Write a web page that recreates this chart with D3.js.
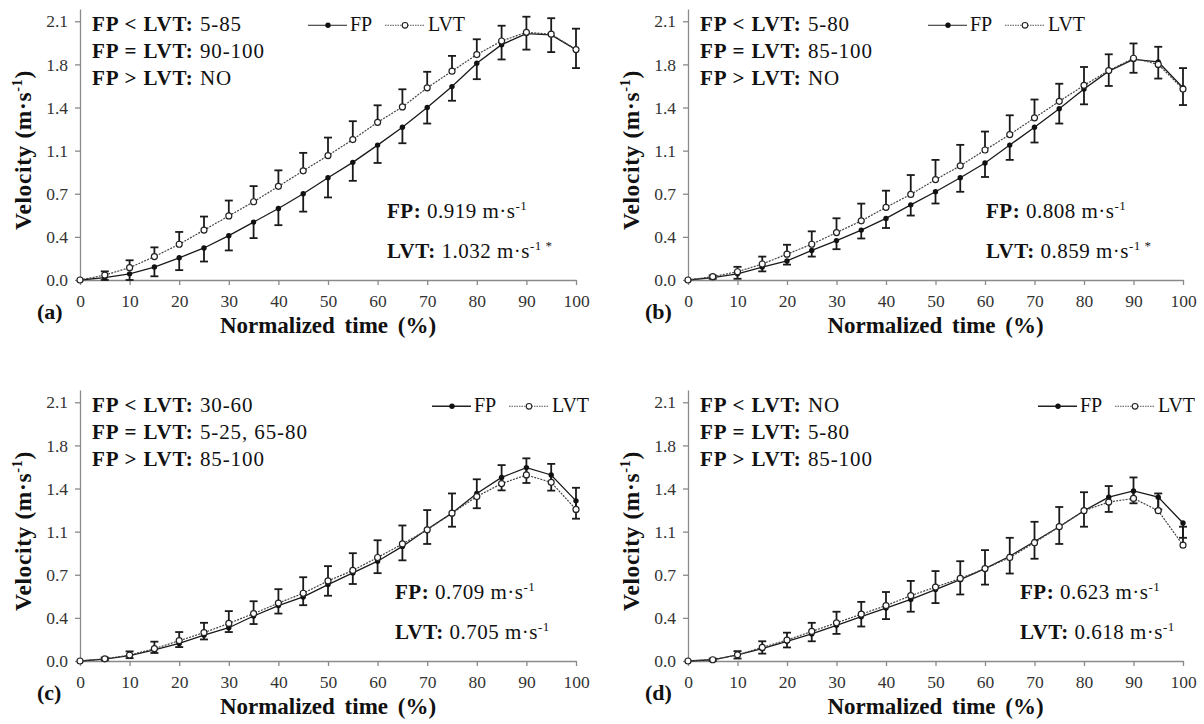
<!DOCTYPE html>
<html>
<head>
<meta charset="utf-8">
<script src="https://cdn.jsdelivr.net/npm/d3@7"></script>
<style>
body { margin: 0; background: #fff; }
</style>
</head>
<body>
<svg id="chart" width="1204" height="724" font-family="Liberation Serif"></svg>
<script>
// normalized time (%)
var times = [0, 5, 10, 15, 20, 25, 30, 35, 40, 45, 50, 55, 60, 65, 70, 75, 80, 85, 90, 95, 100];
var xTicks = [0, 10, 20, 30, 40, 50, 60, 70, 80, 90, 100];
var yTicks = [0, 0.35, 0.7, 1.05, 1.4, 1.75, 2.1];
var yTickLabels = ['0.0', '0.4', '0.7', '1.1', '1.4', '1.8', '2.1'];

// (a)
var fpA = [0, 0.02, 0.05, 0.105, 0.18, 0.26, 0.36, 0.47, 0.58, 0.70, 0.83, 0.955, 1.095, 1.24, 1.40, 1.57, 1.76, 1.91, 2.0, 1.99, 1.87];
var lvtA = [0, 0.04, 0.10, 0.19, 0.29, 0.405, 0.52, 0.635, 0.76, 0.886, 1.01, 1.14, 1.28, 1.405, 1.56, 1.695, 1.83, 1.94, 2.01, 1.995, 1.87];
var fpSdA = [0, 0.02, 0.05, 0.075, 0.10, 0.11, 0.12, 0.13, 0.135, 0.145, 0.16, 0.15, 0.145, 0.13, 0.13, 0.115, 0.13, 0.12, 0.13, 0.14, 0.15];
var lvtSdA = [0, 0.03, 0.06, 0.075, 0.10, 0.11, 0.125, 0.127, 0.13, 0.146, 0.146, 0.149, 0.138, 0.143, 0.13, 0.124, 0.124, 0.124, 0.127, 0.13, 0.17];

// (b)
var fpB = [0, 0.02, 0.05, 0.105, 0.155, 0.24, 0.32, 0.405, 0.50, 0.61, 0.716, 0.83, 0.95, 1.095, 1.24, 1.39, 1.55, 1.695, 1.79, 1.77, 1.56];
var lvtB = [0, 0.027, 0.067, 0.13, 0.21, 0.29, 0.385, 0.48, 0.59, 0.695, 0.815, 0.927, 1.055, 1.18, 1.316, 1.45, 1.58, 1.70, 1.80, 1.75, 1.55];
var fpSdB = [0, 0.01, 0.04, 0.035, 0.03, 0.05, 0.07, 0.068, 0.078, 0.087, 0.095, 0.114, 0.114, 0.12, 0.124, 0.12, 0.124, 0.12, 0.108, 0.135, 0.14];
var lvtSdB = [0, 0.01, 0.04, 0.06, 0.076, 0.105, 0.116, 0.14, 0.135, 0.157, 0.16, 0.17, 0.15, 0.157, 0.149, 0.143, 0.149, 0.132, 0.12, 0.143, 0.17];

// (c)
var fpC = [0, 0.016, 0.043, 0.09, 0.143, 0.21, 0.27, 0.365, 0.45, 0.52, 0.62, 0.715, 0.81, 0.93, 1.07, 1.20, 1.36, 1.49, 1.57, 1.51, 1.30];
var lvtC = [0, 0.018, 0.048, 0.10, 0.165, 0.23, 0.305, 0.385, 0.47, 0.55, 0.65, 0.735, 0.84, 0.95, 1.065, 1.20, 1.335, 1.44, 1.51, 1.45, 1.23];
var fpSdC = [0, 0.01, 0.02, 0.025, 0.03, 0.035, 0.035, 0.065, 0.065, 0.067, 0.09, 0.09, 0.097, 0.113, 0.12, 0.11, 0.12, 0.105, 0.125, 0.127, 0.145];
var lvtSdC = [0, 0.01, 0.03, 0.057, 0.07, 0.08, 0.10, 0.10, 0.113, 0.13, 0.12, 0.14, 0.14, 0.15, 0.16, 0.16, 0.14, 0.15, 0.135, 0.15, 0.176];

// (d)
var fpD = [0, 0.01, 0.05, 0.10, 0.16, 0.22, 0.29, 0.36, 0.43, 0.50, 0.58, 0.66, 0.75, 0.85, 0.97, 1.09, 1.22, 1.33, 1.38, 1.33, 1.12];
var lvtD = [0, 0.01, 0.05, 0.11, 0.17, 0.24, 0.31, 0.38, 0.45, 0.53, 0.60, 0.67, 0.75, 0.84, 0.96, 1.09, 1.22, 1.29, 1.32, 1.22, 0.94];
var fpSdD = [0, 0.01, 0.03, 0.04, 0.05, 0.06, 0.07, 0.08, 0.09, 0.10, 0.11, 0.12, 0.13, 0.14, 0.14, 0.14, 0.13, 0.12, 0.10, 0.10, 0.12];
var lvtSdD = [0, 0.01, 0.03, 0.05, 0.06, 0.07, 0.09, 0.10, 0.11, 0.12, 0.13, 0.14, 0.15, 0.16, 0.17, 0.16, 0.15, 0.13, 0.17, 0.14, 0.15];

var notesA = [['FP < LVT:', '5-85'], ['FP = LVT:', '90-100'], ['FP > LVT:', 'NO']];
var notesB = [['FP < LVT:', '5-80'], ['FP = LVT:', '85-100'], ['FP > LVT:', 'NO']];
var notesC = [['FP < LVT:', '30-60'], ['FP = LVT:', '5-25, 65-80'], ['FP > LVT:', '85-100']];
var notesD = [['FP < LVT:', 'NO'], ['FP = LVT:', '5-80'], ['FP > LVT:', '85-100']];

var panels = [
	{ tag: '(a)', left: 80, right: 576, bottom: 280, fp: fpA, lvt: lvtA, fpSd: fpSdA, lvtSd: lvtSdA, notes: notesA, legendX: 308, statX: 387, fpMean: '0.919', lvtMean: '1.032', star: true },
	{ tag: '(b)', left: 688, right: 1183, bottom: 280, fp: fpB, lvt: lvtB, fpSd: fpSdB, lvtSd: lvtSdB, notes: notesB, legendX: 928, statX: 986, fpMean: '0.808', lvtMean: '0.859', star: true },
	{ tag: '(c)', left: 80, right: 576, bottom: 661, fp: fpC, lvt: lvtC, fpSd: fpSdC, lvtSd: lvtSdC, notes: notesC, legendX: 432, statX: 395, fpMean: '0.709', lvtMean: '0.705', star: false },
	{ tag: '(d)', left: 688, right: 1183, bottom: 661, fp: fpD, lvt: lvtD, fpSd: fpSdD, lvtSd: lvtSdD, notes: notesD, legendX: 1038, statX: 1020, fpMean: '0.623', lvtMean: '0.618', star: false }
];

var svg = d3.select('#chart');

// text with bold / superscript pieces
function rich(sel, parts, size) {
	var shift = 0;
	parts.forEach(function(p) {
		var ts = sel.append('tspan')
			.text(p.t)
			.attr('font-weight', p.b ? 'bold' : 'normal')
			.attr('font-size', p.sup ? size * 0.62 : size);
		var target = p.sup ? -size * 0.38 : 0;
		if (target !== shift) {
			ts.attr('dy', target - shift);
			shift = target;
		}
	});
}

panels.forEach(function(p, pi) {
	var x = d3.scaleLinear().domain([0, 100]).range([p.left, p.right]);
	var y = d3.scaleLinear().domain([0, 2.2]).range([p.bottom, p.bottom - 2.2 * 123.2]);
	var g = svg.append('g');

	var yAxis = g.append('g')
		.attr('transform', 'translate(' + p.left + ',0)')
		.call(d3.axisLeft(y).tickValues(yTicks).tickFormat(function(d, i) {
			return yTickLabels[i];
		}).tickSize(5).tickSizeOuter(0).tickPadding(7));
	var xAxis = g.append('g')
		.attr('transform', 'translate(0,' + p.bottom + ')')
		.call(d3.axisBottom(x).tickValues(xTicks).tickSize(5).tickSizeOuter(0).tickPadding(10));
	[yAxis, xAxis].forEach(function(a) {
		a.attr('font-family', 'Liberation Serif');
		a.select('.domain').attr('stroke', '#8a8a8a').attr('stroke-width', 1.3);
		a.selectAll('.tick line').attr('stroke', '#8a8a8a').attr('stroke-width', 1.3);
		a.selectAll('.tick text')
			.attr('font-size', 17.5)
			.attr('fill', '#333');
	});

	// axis titles
	var yt = g.append('text')
		.attr('transform', 'translate(' + (p.left - 49) + ',' + (p.bottom - 130) + ') rotate(-90)')
		.attr('text-anchor', 'middle')
		.attr('letter-spacing', 0.6)
		.attr('fill', '#111');
	rich(yt, [{ t: 'Velocity (m·s', b: true }, { t: '-1', b: true, sup: true }, { t: ')', b: true }], 23.5);

	g.append('text')
		.attr('x', (p.left + p.right) / 2)
		.attr('y', p.bottom + 53)
		.attr('text-anchor', 'middle')
		.attr('font-weight', 'bold')
		.attr('font-size', 23)
		.attr('word-spacing', 4)
		.attr('fill', '#111')
		.text('Normalized time (%)');

	g.append('text')
		.attr('x', p.left - 43)
		.attr('y', p.bottom + 39)
		.attr('font-weight', 'bold')
		.attr('font-size', 22)
		.attr('fill', '#111')
		.text(p.tag);

	// error bars: FP downward, LVT upward
	var bars = [];
	times.forEach(function(t, i) {
		if (p.fpSd[i] > 0) bars.push({ t: t, a: p.fp[i], b: p.fp[i] - p.fpSd[i] });
		if (p.lvtSd[i] > 0) bars.push({ t: t, a: p.lvt[i], b: p.lvt[i] + p.lvtSd[i] });
	});
	var eb = g.append('g').attr('stroke', '#1a1a1a').attr('stroke-width', 1.8);
	eb.selectAll('.v').data(bars).enter().append('line')
		.attr('x1', function(d) { return x(d.t); })
		.attr('x2', function(d) { return x(d.t); })
		.attr('y1', function(d) { return y(d.a); })
		.attr('y2', function(d) { return y(Math.max(0, d.b)); });
	eb.selectAll('.c').data(bars).enter().append('line')
		.attr('x1', function(d) { return x(d.t) - 4; })
		.attr('x2', function(d) { return x(d.t) + 4; })
		.attr('y1', function(d) { return y(Math.max(0, d.b)); })
		.attr('y2', function(d) { return y(Math.max(0, d.b)); });

	var line = d3.line().x(function(d, i) { return x(times[i]); }).y(function(d) { return y(d); });

	g.append('path').datum(p.fp)
		.attr('d', line)
		.attr('fill', 'none')
		.attr('stroke', '#1a1a1a')
		.attr('stroke-width', 1.3);
	g.append('path').datum(p.lvt)
		.attr('d', line)
		.attr('fill', 'none')
		.attr('stroke', '#444')
		.attr('stroke-width', 1.2)
		.attr('stroke-dasharray', '2,1.2');

	g.selectAll('.fp').data(p.fp).enter().append('circle')
		.attr('cx', function(d, i) { return x(times[i]); })
		.attr('cy', function(d) { return y(d); })
		.attr('r', 2.7)
		.attr('fill', '#111');
	g.selectAll('.lvt').data(p.lvt).enter().append('circle')
		.attr('cx', function(d, i) { return x(times[i]); })
		.attr('cy', function(d) { return y(d); })
		.attr('r', 3)
		.attr('fill', '#fff')
		.attr('stroke', '#222')
		.attr('stroke-width', 1.2);

	// comparison notes
	p.notes.forEach(function(n, i) {
		var t = g.append('text')
			.attr('x', p.left + 12)
			.attr('y', y(2.1) + 10 + i * 27)
			.attr('letter-spacing', 0.9)
			.attr('fill', '#111');
		rich(t, [{ t: n[0], b: true }, { t: ' ' + n[1] }], 21);
	});

	// legend
	var ly = y(2.1) + 4;
	var lx = p.legendX;
	var thick = pi >= 2 ? 1.6 : 1;
	g.append('line').attr('x1', lx).attr('x2', lx + 39).attr('y1', ly).attr('y2', ly)
		.attr('stroke', '#222').attr('stroke-width', thick);
	g.append('circle').attr('cx', lx + 20).attr('cy', ly).attr('r', 2.7).attr('fill', '#111');
	g.append('text').attr('x', lx + 42).attr('y', ly + 6).attr('font-size', 20).attr('fill', '#111').text('FP');
	var lx2 = lx + 77;
	g.append('line').attr('x1', lx2).attr('x2', lx2 + 40).attr('y1', ly).attr('y2', ly)
		.attr('stroke', '#555').attr('stroke-width', 1).attr('stroke-dasharray', '1.5,1');
	g.append('circle').attr('cx', lx2 + 20).attr('cy', ly).attr('r', 2.8)
		.attr('fill', '#fff').attr('stroke', '#222').attr('stroke-width', 1.1);
	g.append('text').attr('x', lx2 + 43).attr('y', ly + 6).attr('font-size', 20).attr('fill', '#111').text('LVT');

	// mean velocities
	var s1 = g.append('text').attr('x', p.statX).attr('y', p.bottom - 62).attr('letter-spacing', 0.5).attr('fill', '#111');
	rich(s1, [{ t: 'FP:', b: true }, { t: ' ' + p.fpMean + ' m·s' }, { t: '-1', sup: true }], 21);
	var s2 = g.append('text').attr('x', p.statX).attr('y', p.bottom - 22).attr('letter-spacing', 0.5).attr('fill', '#111');
	var parts = [{ t: 'LVT:', b: true }, { t: ' ' + p.lvtMean + ' m·s' }, { t: '-1', sup: true }];
	if (p.star) parts.push({ t: ' *', sup: true });
	rich(s2, parts, 21);
});
</script>
</body>
</html>
